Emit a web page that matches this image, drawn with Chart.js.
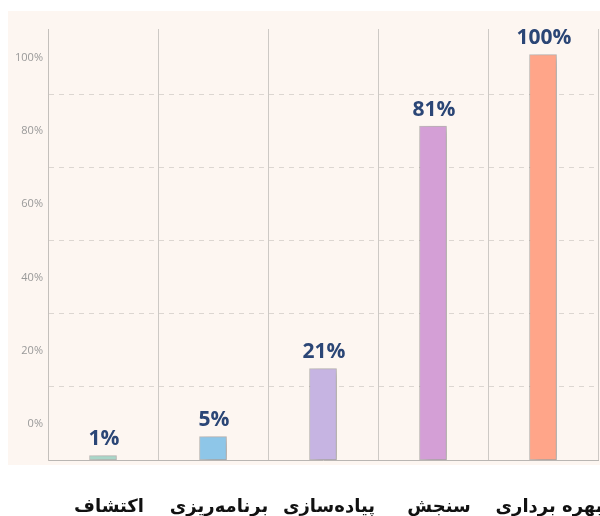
<!DOCTYPE html>
<html>
<head>
<meta charset="utf-8">
<title>Stages</title>
<style>
  body { margin: 0; padding: 0; background: #ffffff; }
  #wrap { width: 600px; height: 516px; }
</style>
<script src="https://cdn.jsdelivr.net/npm/chart.js"></script>
</head>
<body>
<div id="wrap"><canvas id="stageChart" width="600" height="516"></canvas></div>
<script>
// data
const stages = ['اکتشاف', 'برنامه‌ریزی', 'پیاده‌سازی', 'سنجش', 'بهره برداری'];
const barHeights = [-8.8, -3.6, 15, 81.4, 101];   // where the bar tops sit on the axis
const barLabels = ['1%', '5%', '21%', '81%', '100%'];
const barColors = ['#a9d6c8', '#8ec6e8', '#c6b4e2', '#d49fd6', '#ffa589'];
const tickValues = [0, 20, 40, 60, 80, 100];
const gridValues = [10, 30, 50, 70, 90];
const axisMin = -10;
const axisMax = 108;

// peach panel behind the plot
const panelPlugin = {
  id: 'panel',
  beforeDraw(chart) {
    const c = chart.ctx;
    c.save();
    c.fillStyle = '#fdf6f1';
    c.fillRect(8, 11, 592, 454);
    c.restore();
  }
};

// soft shadow on the bars
const shadowPlugin = {
  id: 'barShadow',
  beforeDatasetDraw(chart) {
    const c = chart.ctx;
    c.save();
    c.shadowColor = 'rgba(0,0,0,0.16)';
    c.shadowBlur = 9;
    c.shadowOffsetX = 6;
    c.shadowOffsetY = 3;
  },
  afterDatasetDraw(chart) {
    chart.ctx.restore();
  }
};

// percentage text above each bar
const valueLabels = {
  id: 'valueLabels',
  afterDatasetsDraw(chart) {
    const c = chart.ctx;
    const meta = chart.getDatasetMeta(0);
    c.save();
    c.font = 'bold 21px "Open Sans", sans-serif';
    c.fillStyle = '#2b4676';
    c.textAlign = 'center';
    c.textBaseline = 'bottom';
    meta.data.forEach((bar, i) => {
      c.fillText(barLabels[i], bar.x + 1, bar.y - 6);
    });
    c.restore();
  }
};

const ctx = document.getElementById('stageChart').getContext('2d');
new Chart(ctx, {
  type: 'bar',
  data: {
    labels: stages,
    datasets: [{
      data: barHeights,
      base: axisMin,
      backgroundColor: barColors,
      borderColor: 'rgba(110,110,110,0.45)',
      borderWidth: 1,
      borderSkipped: false,
      barThickness: 27
    }]
  },
  options: {
    responsive: false,
    animation: false,
    layout: { padding: { left: 8, right: 2, top: 29, bottom: 0 } },
    plugins: {
      legend: { display: false },
      tooltip: { enabled: false }
    },
    scales: {
      x: {
        offset: true,
        grid: {
          offset: true,
          color: '#cdc9c5',
          lineWidth: 1,
          drawTicks: false
        },
        border: { color: '#b9b6b3', width: 1 },
        ticks: {
          padding: 37,
          labelOffset: 6,
          color: '#111111',
          font: { family: '"DejaVu Sans", sans-serif', size: 18, weight: 'bold' },
          maxRotation: 0,
          autoSkip: false
        },
        afterFit(scale) {
          scale.height = 56;
          scale.paddingLeft = 0;
          scale.paddingRight = 0;
        }
      },
      y: {
        min: axisMin,
        max: axisMax,
        afterBuildTicks(scale) {
          scale.ticks = tickValues.concat(gridValues).sort((a, b) => a - b).map(v => ({ value: v }));
        },
        afterFit(scale) {
          scale.width = 40;
          scale.paddingTop = 0;
          scale.paddingBottom = 0;
        },
        grid: {
          drawTicks: false,
          color: c => gridValues.includes(c.tick.value) ? '#dcd6d1' : 'rgba(0,0,0,0)',
          lineWidth: 1
        },
        border: { display: true, color: '#c4c0bc', dash: [5, 5] },
        ticks: {
          padding: 5,
          color: '#999999',
          font: { family: '"Open Sans", sans-serif', size: 11 },
          callback: v => tickValues.includes(v) ? v + '%' : ''
        }
      }
    }
  },
  plugins: [panelPlugin, shadowPlugin, valueLabels]
});
</script>
</body>
</html>
